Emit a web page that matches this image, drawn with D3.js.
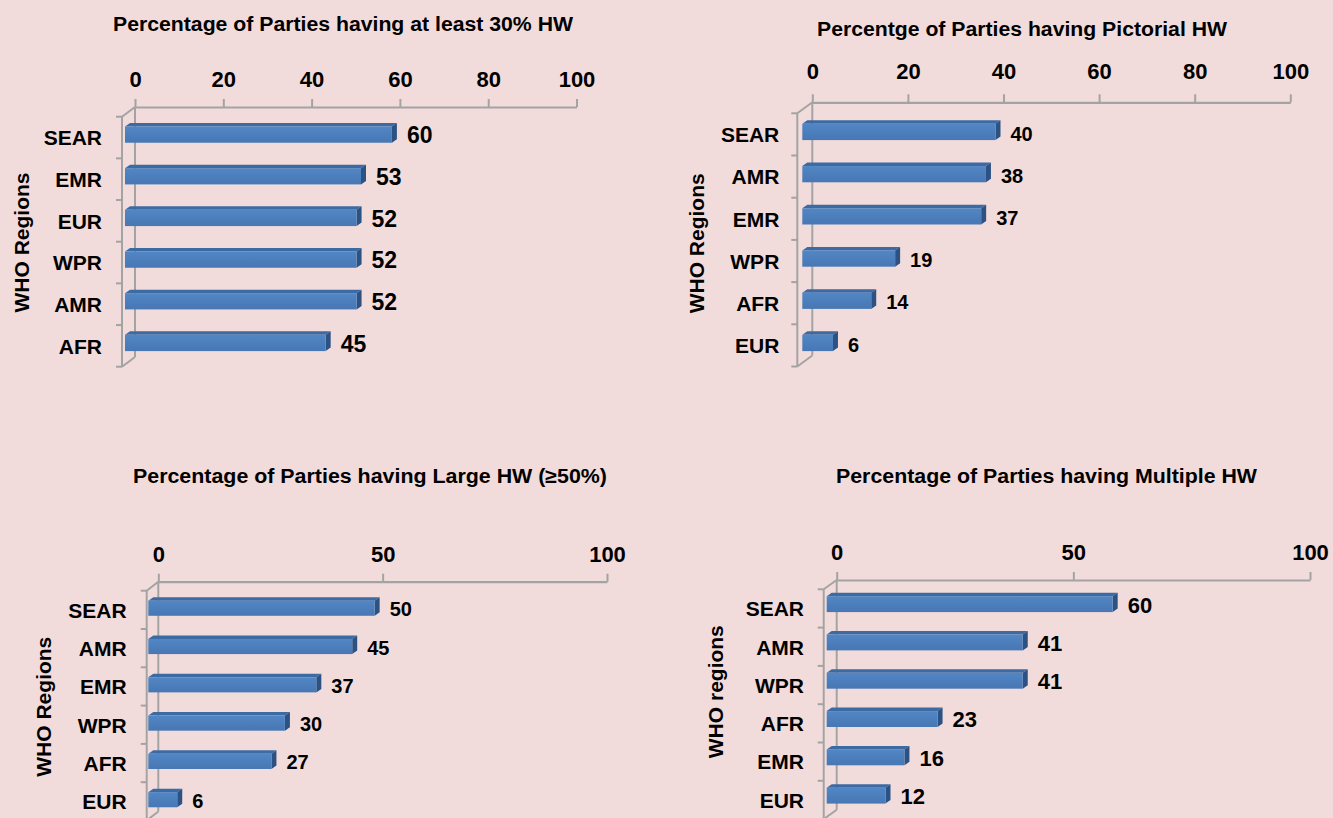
<!DOCTYPE html>
<html>
<head>
<meta charset="utf-8">
<script src="https://cdn.jsdelivr.net/npm/d3@7"></script>
<style>
  html, body { margin: 0; padding: 0; background: #f2dcdb; }
  svg { display: block; }
  text { font-family: "Liberation Sans", Arial, sans-serif; font-weight: bold; fill: #000; }
</style>
</head>
<body>
<svg id="chart" width="1333" height="818"></svg>
<script>
// ---------- DATA ----------
const cats1 = ["SEAR", "EMR", "EUR", "WPR", "AMR", "AFR"];
const vals1 = [60, 53, 52, 52, 52, 45];
const ticks1 = [0, 20, 40, 60, 80, 100];
const title1 = "Percentage of Parties having at least 30% HW";
const yTitle1 = "WHO Regions";

const cats2 = ["SEAR", "AMR", "EMR", "WPR", "AFR", "EUR"];
const vals2 = [40, 38, 37, 19, 14, 6];
const ticks2 = [0, 20, 40, 60, 80, 100];
const title2 = "Percentge of Parties having Pictorial HW";
const yTitle2 = "WHO Regions";

const cats3 = ["SEAR", "AMR", "EMR", "WPR", "AFR", "EUR"];
const vals3 = [50, 45, 37, 30, 27, 6];
const ticks3 = [0, 50, 100];
const title3 = "Percentage of Parties having Large HW (\u226550%)";
const yTitle3 = "WHO Regions";

const cats4 = ["SEAR", "AMR", "WPR", "AFR", "EMR", "EUR"];
const vals4 = [60, 41, 41, 23, 16, 12];
const ticks4 = [0, 50, 100];
const title4 = "Percentage of Parties having Multiple HW";
const yTitle4 = "WHO regions";

// ---------- LAYOUT ----------
const panels = [
  { cats: cats1, vals: vals1, ticks: ticks1, title: title1, yTitle: yTitle1,
    x0: 135, x1: 576.5, axisY: 107, bandTop: 116.7, step: 41.67, wallDx: -13,
    tickBase: 87, tickFont: 22, titleX: 343, titleY: 31, titleW: 460,
    yTitleX: 28.5, yTitleY: 242.5, catRight: 102, catFont: 21, valFont: 23,
    barTop: 0.235, barH: 0.39 },
  { cats: cats2, vals: vals2, ticks: ticks2, title: title2, yTitle: yTitle2,
    x0: 812.3, x1: 1290.3, axisY: 102.3, bandTop: 113.3, step: 42.2, wallDx: -15,
    tickBase: 78.5, tickFont: 22, titleX: 1022, titleY: 36, titleW: 410,
    yTitleX: 704, yTitleY: 243.3, catRight: 779.3, catFont: 21, valFont: 20,
    barTop: 0.25, barH: 0.385 },
  { cats: cats3, vals: vals3, ticks: ticks3, title: title3, yTitle: yTitle3,
    x0: 158.3, x1: 607, axisY: 581.7, bandTop: 590.7, step: 38.3, wallDx: -11.6,
    tickBase: 562, tickFont: 22, titleX: 370, titleY: 483, titleW: 474,
    yTitleX: 51, yTitleY: 706.7, catRight: 126.7, catFont: 21, valFont: 20,
    barTop: 0.26, barH: 0.395 },
  { cats: cats4, vals: vals4, ticks: ticks4, title: title4, yTitle: yTitle4,
    x0: 836.7, x1: 1310, axisY: 580, bandTop: 589.3, step: 38.3, wallDx: -13,
    tickBase: 559.5, tickFont: 22, titleX: 1046.5, titleY: 483, titleW: 421,
    yTitleX: 723, yTitleY: 691.7, catRight: 804, catFont: 21, valFont: 22,
    barTop: 0.18, barH: 0.415 }
];

const AXIS_COLOR = "#a3a3a3";
const BAR_FRONT_TOP = "#5286c4";
const BAR_FRONT_BOT = "#4777b4";
const BAR_TOP = "#3c6aa2";
const BAR_SIDE = "#2c5283";
const BAR_DX = 5, BAR_DY = 3.5;   // depth of the bars
const BAR_OFF = -8;               // front face offset of bars from back plane

const svg = d3.select("#chart");
svg.append("rect").attr("width", 1333).attr("height", 818).attr("fill", "#f2dcdb");

const defs = svg.append("defs");
const grad = defs.append("linearGradient").attr("id", "barGrad")
  .attr("x1", 0).attr("y1", 0).attr("x2", 0).attr("y2", 1);
grad.append("stop").attr("offset", "0%").attr("stop-color", BAR_FRONT_TOP);
grad.append("stop").attr("offset", "100%").attr("stop-color", BAR_FRONT_BOT);

panels.forEach(p => {
  const g = svg.append("g");
  const x = d3.scaleLinear().domain([0, 100]).range([p.x0, p.x1]);
  const n = p.cats.length;
  const y = d3.scaleBand().domain(p.cats).range([p.bandTop, p.bandTop + n * p.step]).padding(0);
  const wallDy = p.bandTop - p.axisY;
  const fx = p.x0 + p.wallDx;               // front wall x
  const yBottom = p.bandTop + n * p.step;   // front wall bottom

  // title
  g.append("text")
    .attr("x", p.titleX).attr("y", p.titleY)
    .attr("text-anchor", "middle")
    .attr("font-size", 20)
    .attr("textLength", p.titleW)
    .attr("lengthAdjust", "spacingAndGlyphs")
    .text(p.title);

  // walls (3D frame)
  const wall = g.append("g").attr("stroke", AXIS_COLOR).attr("stroke-width", 2).attr("fill", "none");
  wall.append("line").attr("x1", p.x0).attr("y1", p.axisY).attr("x2", p.x0).attr("y2", yBottom - wallDy);
  wall.append("line").attr("x1", fx).attr("y1", p.bandTop).attr("x2", fx).attr("y2", yBottom);
  wall.append("line").attr("x1", fx).attr("y1", p.bandTop).attr("x2", p.x0).attr("y2", p.axisY);
  wall.append("line").attr("x1", fx).attr("y1", yBottom).attr("x2", p.x0).attr("y2", yBottom - wallDy);
  // category boundary ticks
  const bounds = d3.range(n + 1).map(i => p.bandTop + i * p.step);
  wall.selectAll("line.bt").data(bounds).enter().append("line")
    .attr("class", "bt")
    .attr("x1", fx - 6).attr("x2", fx)
    .attr("y1", d => d).attr("y2", d => d);

  // top value axis
  const xAxis = d3.axisTop(x).tickValues(p.ticks).tickSize(8).tickSizeOuter(0)
    .tickPadding(p.axisY - p.tickBase - 8).tickFormat(d3.format("d"));
  const ax = g.append("g").attr("transform", `translate(0,${p.axisY})`).call(xAxis);
  ax.select(".domain").attr("stroke", AXIS_COLOR).attr("stroke-width", 2.2);
  ax.selectAll(".tick line").attr("stroke", AXIS_COLOR).attr("stroke-width", 2);
  ax.selectAll(".tick text")
    .attr("fill", "#000")
    .attr("dy", 0)
    .style("font-family", '"Liberation Sans", Arial, sans-serif')
    .style("font-weight", "bold")
    .style("font-size", p.tickFont + "px");

  // category axis labels
  const yAxis = d3.axisLeft(y).tickSize(0).tickPadding(0);
  const ay = g.append("g").attr("transform", `translate(${p.catRight},0)`).call(yAxis);
  ay.select(".domain").remove();
  ay.selectAll(".tick text")
    .attr("fill", "#000")
    .attr("dy", "0.37em")
    .style("font-family", '"Liberation Sans", Arial, sans-serif')
    .style("font-weight", "bold")
    .style("font-size", p.catFont + "px");

  // y axis title
  g.append("text")
    .attr("transform", `translate(${p.yTitleX},${p.yTitleY}) rotate(-90)`)
    .attr("text-anchor", "middle")
    .attr("font-size", 21)
    .text(p.yTitle);

  // bars
  const data = p.cats.map((c, i) => ({ cat: c, val: p.vals[i] }));
  const bars = g.selectAll("g.bar").data(data).enter().append("g").attr("class", "bar");
  const geo = d => {
    const yt = y(d.cat) + p.barTop * p.step;
    const yb = yt + p.barH * p.step;
    const xl = x(0) + BAR_OFF - 2;
    const xr = x(d.val) + BAR_OFF;
    return { yt, yb, xl, xr };
  };
  bars.append("polygon")
    .attr("points", d => {
      const b = geo(d);
      return [[b.xl, b.yt], [b.xl + BAR_DX, b.yt - BAR_DY], [b.xr + BAR_DX, b.yt - BAR_DY], [b.xr, b.yt]].join(" ");
    })
    .attr("fill", BAR_TOP);
  bars.append("polygon")
    .attr("points", d => {
      const b = geo(d);
      return [[b.xr, b.yt], [b.xr + BAR_DX, b.yt - BAR_DY], [b.xr + BAR_DX, b.yb - BAR_DY], [b.xr, b.yb]].join(" ");
    })
    .attr("fill", BAR_SIDE);
  bars.append("rect")
    .attr("x", d => geo(d).xl)
    .attr("y", d => geo(d).yt)
    .attr("width", d => geo(d).xr - geo(d).xl)
    .attr("height", d => geo(d).yb - geo(d).yt)
    .attr("fill", "url(#barGrad)");

  // value labels
  bars.append("text")
    .attr("x", d => x(d.val) + BAR_OFF + 15)
    .attr("y", d => geo(d).yb + 0.5)
    .attr("font-size", p.valFont)
    .text(d => d.val);
});
</script>
</body>
</html>
